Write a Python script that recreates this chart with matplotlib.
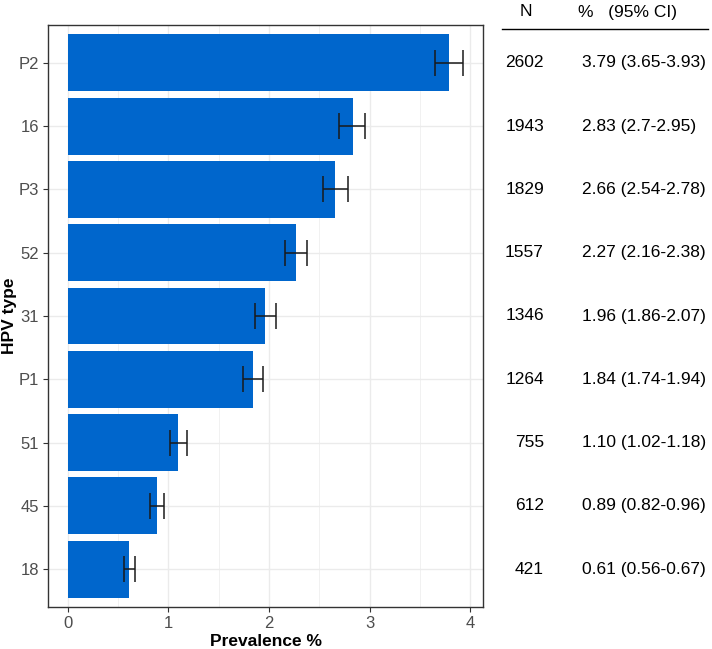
import numpy as np
import matplotlib.pyplot as plt
from matplotlib.transforms import blended_transform_factory

plt.rcParams['font.family'] = ['Liberation Sans', 'DejaVu Sans']

hpv_types = ['P2', '16', 'P3', '52', '31', 'P1', '51', '45', '18']
counts = [2602, 1943, 1829, 1557, 1346, 1264, 755, 612, 421]
prev = [3.79, 2.83, 2.66, 2.27, 1.96, 1.84, 1.10, 0.89, 0.61]
ci_low = [3.65, 2.7, 2.54, 2.16, 1.86, 1.74, 1.02, 0.82, 0.56]
ci_high = [3.93, 2.95, 2.78, 2.38, 2.07, 1.94, 1.18, 0.96, 0.67]
ci_text = ['3.79 (3.65-3.93)', '2.83 (2.7-2.95)', '2.66 (2.54-2.78)',
           '2.27 (2.16-2.38)', '1.96 (1.86-2.07)', '1.84 (1.74-1.94)',
           '1.10 (1.02-1.18)', '0.89 (0.82-0.96)', '0.61 (0.56-0.67)']

W, H = 712, 649
fig = plt.figure(figsize=(W / 100, H / 100), dpi=100)
ax = fig.add_axes([48 / W, 1 - 607 / H, (483 - 48) / W, (607 - 25) / H])

n = len(hpv_types)
ypos = np.arange(n)[::-1] + 1  # P2 at top
prev = np.array(prev)
lo = prev - np.array(ci_low)
hi = np.array(ci_high) - prev

ax.barh(ypos, prev, height=0.9, color='#0066CC', zorder=2)
ax.errorbar(prev, ypos, xerr=[lo, hi], fmt='none', ecolor='#1a1a1a',
            elinewidth=1.1, capsize=9.5, capthick=1.1, zorder=3)

xmax = max(ci_high)
ax.set_xlim(-0.05 * xmax, xmax * 1.05)
ax.set_ylim(0.4, n + 0.6)
ax.set_yticks(ypos)
ax.set_yticklabels(hpv_types)
ax.set_xticks([0, 1, 2, 3, 4])
ax.set_xticks([0.5, 1.5, 2.5, 3.5], minor=True)
ax.grid(which='major', color='#EBEBEB', linewidth=1.0, zorder=0)
ax.grid(which='minor', axis='x', color='#EBEBEB', linewidth=0.5, zorder=0)
ax.set_axisbelow(True)
for s in ax.spines.values():
    s.set_color('#333333')
    s.set_linewidth(1.0)
ax.tick_params(which='major', length=3.5, width=0.8, color='#333333',
               labelcolor='#4D4D4D', labelsize=12, pad=3)
ax.tick_params(which='minor', length=0)
ax.set_xlabel('Prevalence %', fontsize=12.5, fontweight='bold', labelpad=2)
ax.set_ylabel('HPV type', fontsize=12.5, fontweight='bold', labelpad=1)

# side table
tr = blended_transform_factory(fig.transFigure, ax.transData)
for y, c, t in zip(ypos, counts, ci_text):
    ax.text(544 / W, y, str(c), transform=tr, ha='right', va='center',
            fontsize=12.5, clip_on=False)
    ax.text(582 / W, y, t, transform=tr, ha='left', va='center',
            fontsize=12.5, clip_on=False)
fig.text(526 / W, 1 - 12 / H, 'N', ha='center', va='center', fontsize=12.5)
fig.text(627 / W, 1 - 12 / H, '%   (95% CI)', ha='center', va='center', fontsize=12.5)
fig.add_artist(plt.Line2D([502 / W, 708 / W], [1 - 29 / H, 1 - 29 / H],
                          color='black', linewidth=1.0))

fig.savefig('out.png', dpi=100)
